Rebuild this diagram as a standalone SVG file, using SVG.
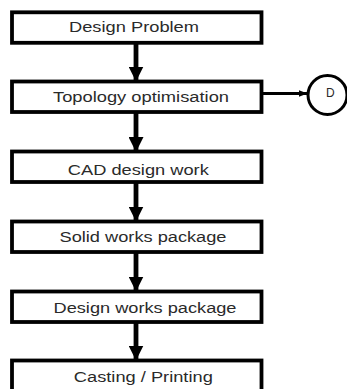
<svg xmlns="http://www.w3.org/2000/svg" width="347" height="389" viewBox="0 0 347 389">
  <style>
    .box rect { fill: #ffffff; stroke: #000000; stroke-width: 3.8; }
    .box text { font-family: "Liberation Sans", Arial, sans-serif; font-size: 14px; fill: #2a2a2a; text-anchor: middle; }
    .flow { stroke: #000000; stroke-width: 4.8; fill: none; }
    .side { stroke: #000000; stroke-width: 3.2; fill: none; }
    .term circle { fill: #ffffff; stroke: #000000; stroke-width: 3; }
    .term text { font-family: "Liberation Sans", Arial, sans-serif; font-size: 12px; fill: #2a2a2a; }
  </style>
  <defs>
    <marker id="head" markerUnits="userSpaceOnUse" markerWidth="15" markerHeight="15" refX="15" refY="7.5" orient="auto">
      <path d="M0,0 L15,7.5 L0,15 Z" fill="#000000"/>
    </marker>
    <marker id="headSmall" markerUnits="userSpaceOnUse" markerWidth="9" markerHeight="7" refX="9" refY="3.5" orient="auto">
      <path d="M0,0 L9,3.5 L0,7 Z" fill="#000000"/>
    </marker>
  </defs>

  <g id="connectors">
    <line class="flow" x1="136" y1="43" x2="136" y2="81.5" marker-end="url(#head)"/>
    <line class="flow" x1="136" y1="112" x2="136" y2="152" marker-end="url(#head)"/>
    <line class="flow" x1="136" y1="182" x2="136" y2="221.5" marker-end="url(#head)"/>
    <line class="flow" x1="136" y1="252" x2="136" y2="291.5" marker-end="url(#head)"/>
    <line class="flow" x1="136" y1="322" x2="136" y2="360.5" marker-end="url(#head)"/>
    <line class="side" x1="263" y1="93.5" x2="307.5" y2="93.5" marker-end="url(#headSmall)"/>
  </g>

  <g id="design-problem" class="box">
    <rect x="12" y="12.3" width="249.5" height="30.5"/>
    <text x="134" y="32" textLength="130" lengthAdjust="spacingAndGlyphs">Design Problem</text>
  </g>
  <g id="topology-optimisation" class="box">
    <rect x="12" y="81.5" width="249.5" height="30.5"/>
    <text x="141" y="101.7" textLength="176" lengthAdjust="spacingAndGlyphs">Topology optimisation</text>
  </g>
  <g id="cad-design-work" class="box">
    <rect x="12" y="151.5" width="249.5" height="30.5"/>
    <text x="138.3" y="174.5" textLength="141" lengthAdjust="spacingAndGlyphs">CAD design work</text>
  </g>
  <g id="solid-works-package" class="box">
    <rect x="12" y="221.5" width="249.5" height="30.5"/>
    <text x="143" y="241.7" textLength="167" lengthAdjust="spacingAndGlyphs">Solid works package</text>
  </g>
  <g id="design-works-package" class="box">
    <rect x="12" y="291.5" width="249.5" height="30.5"/>
    <text x="145" y="312.7" textLength="183" lengthAdjust="spacingAndGlyphs">Design works package</text>
  </g>
  <g id="casting-printing" class="box">
    <rect x="12" y="360.5" width="249.5" height="30.5"/>
    <text x="143.3" y="381.7" textLength="139" lengthAdjust="spacingAndGlyphs">Casting / Printing</text>
  </g>

  <g id="terminal-d" class="term">
    <circle cx="327.5" cy="95" r="19.5"/>
    <text x="326" y="96.7">D</text>
  </g>
</svg>
